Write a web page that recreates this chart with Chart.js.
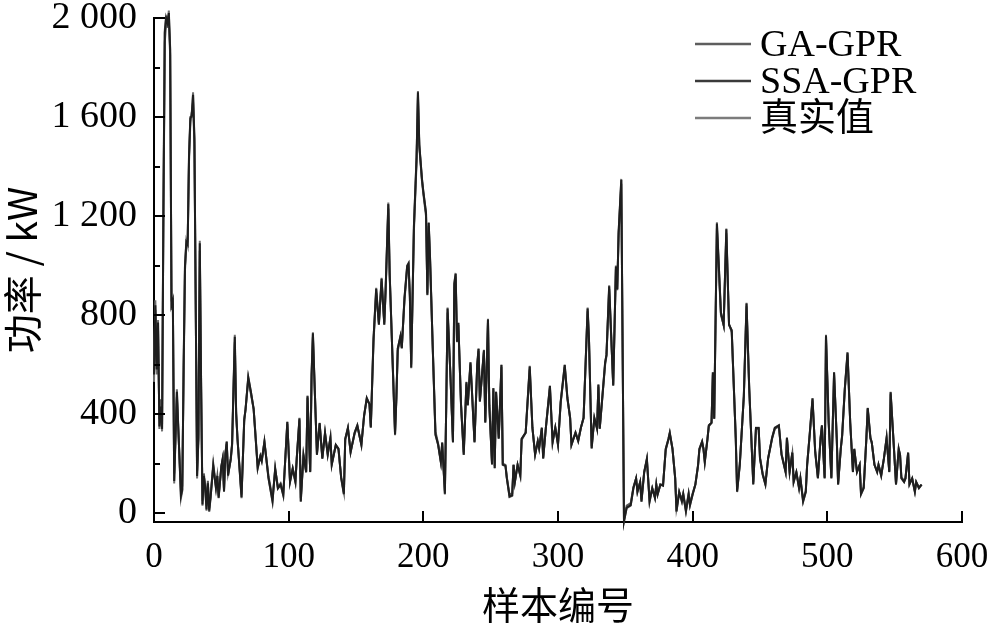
<!DOCTYPE html>
<html>
<head>
<meta charset="utf-8">
<script src="https://cdn.jsdelivr.net/npm/chart.js@4"></script>
<style>
  html, body { margin: 0; padding: 0; background: #fff; }
  #powerChart { display: block; }
</style>
</head>
<body>
<canvas id="powerChart" width="1000" height="629"></canvas>
<script>
// ==========================================
// DATA
// ==========================================

// sample number for every point
const sampleNo = [
  0, 1, 2, 3, 4, 5, 6, 7, 8, 9,
  10, 11, 12, 13, 14, 15, 17, 20, 21, 22,
  23, 24, 25, 26, 27, 28, 29, 30, 32, 33,
  34, 35, 36, 37, 38, 39, 40, 41, 42, 44,
  46, 47, 48, 50, 51, 52, 53, 54, 55, 57,
  58, 60, 61, 62, 65, 67, 68, 70, 72, 74,
  75, 77, 79, 80, 82, 85, 88, 90, 92, 94,
  96, 99, 101, 103, 105, 106, 108, 109, 111, 113,
  114, 116, 117, 118, 120, 121, 123, 125, 127, 129,
  131, 132, 135, 137, 139, 141, 142, 144, 146, 149,
  151, 154, 156, 158, 160, 161, 163, 165, 167, 169,
  171, 172, 174, 175, 179, 180, 181, 183, 184, 186,
  188, 189, 190, 191, 193, 195, 196, 197, 199, 200,
  202, 203, 204, 205, 207, 209, 211, 213, 214, 216,
  217, 218, 220, 222, 223, 224, 225, 226, 228, 230,
  232, 233, 235, 236, 238, 240, 241, 242, 245, 246,
  248, 249, 251, 252, 253, 254, 256, 258, 259, 261,
  262, 264, 266, 267, 268, 270, 272, 273, 276, 279,
  281, 283, 285, 286, 288, 289, 291, 294, 296, 298,
  300, 302, 305, 307, 309, 310, 313, 315, 317, 319,
  322, 323, 325, 327, 329, 330, 331, 333, 335, 336,
  338, 341, 343, 344, 345, 347, 349, 351, 354, 356,
  358, 359, 361, 362, 364, 366, 368, 370, 372, 373,
  374, 376, 378, 380, 382, 383, 385, 387, 388, 390,
  392, 393, 395, 397, 398, 400, 402, 404, 405, 407,
  408, 409, 411, 412, 414, 415, 416, 418, 421, 423,
  425, 427, 429, 432, 433, 435, 438, 440, 442, 445,
  447, 449, 450, 452, 454, 456, 459, 461, 464, 466,
  469, 470, 472, 474, 475, 477, 479, 480, 482, 484,
  485, 487, 489, 491, 493, 495, 496, 498, 499, 501,
  503, 505, 507, 508, 510, 511, 513, 515, 517, 519,
  520, 522, 524, 525, 527, 529, 530, 532, 533, 535,
  537, 538, 540, 542, 544, 546, 547, 549, 551, 553,
  554, 555, 557, 558, 560, 561, 563, 565, 566, 568,
  570
];

// 真实值 (kW)
const realPower = [
  530, 860, 560, 780, 340, 420, 330, 1250, 1950, 2010,
  1960, 2030, 1880, 820, 870, 120, 500, 60, 90, 600,
  1000, 1100, 1080, 1450, 1600, 1600, 1700, 1520, 140, 300,
  1100, 500, 30, 150, 100, 10, 120, 5, 60, 190,
  100, 150, 60, 190, 220, 85, 240, 290, 150, 220,
  280, 720, 400, 300, 60, 380, 420, 550, 490, 420,
  340, 180, 230, 210, 290, 140, 45, 180, 100, 115,
  70, 370, 125, 180, 125, 220, 385, 45, 235, 165,
  475, 165, 560, 730, 395, 235, 365, 220, 325, 235,
  305, 195, 275, 260, 140, 75, 300, 345, 245, 325,
  355, 275, 395, 465, 440, 345, 705, 910, 760, 950,
  760, 905, 1255, 970, 315, 465, 665, 715, 665, 870,
  1000, 1010, 880, 585, 1160, 1445, 1705, 1490, 1350, 1300,
  1215, 880, 1175, 1030, 665, 315, 275, 205, 285, 75,
  435, 830, 570, 285, 930, 970, 690, 770, 435, 235,
  530, 435, 610, 505, 285, 600, 665, 450, 660, 365,
  785, 435, 195, 505, 180, 490, 300, 600, 195, 190,
  140, 65, 70, 195, 125, 195, 150, 300, 325, 595,
  345, 235, 290, 260, 345, 220, 345, 515, 285, 345,
  275, 450, 600, 465, 385, 275, 325, 290, 345, 385,
  830, 705, 260, 385, 340, 520, 340, 475, 610, 640,
  920, 515, 1000, 905, 1135, 1350, -35, 20, 30, 100,
  140, 85, 125, 45, 165, 220, 45, 100, 60, 115,
  75, 115, 110, 260, 300, 325, 260, 140, 5, 85,
  45, 75, 5, 75, 30, 75, 115, 195, 260, 290,
  260, 205, 300, 355, 365, 570, 380, 1175, 810, 760,
  1150, 760, 740, 300, 85, 195, 475, 850, 505, 115,
  345, 345, 220, 155, 115, 220, 305, 345, 355, 235,
  165, 305, 165, 245, 125, 165, 100, 140, 45, 85,
  195, 325, 465, 245, 140, 305, 355, 140, 720, 365,
  140, 570, 300, 115, 262, 315, 505, 650, 365, 165,
  260, 165, 195, 75, 100, 305, 425, 305, 285, 195,
  165, 195, 150, 220, 305, 165, 490, 305, 115, 260,
  235, 140, 125, 140, 245, 115, 140, 85, 125, 100,
  115
];

// GA-GPR (kW)
const gaPower = [
  600, 820, 600, 740, 380, 460, 360, 1200, 1900, 1980,
  2000, 1990, 1850, 860, 840, 160, 470, 90, 110, 560,
  980, 1080, 1100, 1420, 1580, 1620, 1660, 1490, 170, 320,
  1060, 520, 50, 160, 110, 30, 130, 20, 70, 200,
  110, 150, 70, 185, 215, 95, 235, 280, 160, 215,
  275, 690, 410, 300, 75, 370, 420, 540, 480, 420,
  345, 190, 230, 215, 285, 150, 60, 175, 105, 120,
  80, 360, 130, 180, 130, 220, 375, 60, 230, 170,
  465, 170, 545, 710, 400, 240, 360, 225, 320, 240,
  300, 200, 275, 255, 145, 85, 295, 340, 250, 320,
  350, 280, 390, 460, 440, 350, 690, 890, 770, 935,
  770, 895, 1230, 960, 330, 470, 655, 710, 670, 860,
  990, 1000, 870, 600, 1140, 1420, 1680, 1480, 1340, 1290,
  1200, 890, 1160, 1020, 670, 330, 280, 210, 280, 90,
  430, 810, 575, 290, 910, 955, 700, 760, 440, 245,
  520, 440, 600, 500, 290, 590, 655, 455, 650, 370,
  770, 440, 205, 495, 190, 485, 305, 590, 200, 195,
  145, 75, 80, 195, 130, 195, 155, 295, 325, 580,
  345, 240, 290, 265, 340, 225, 345, 505, 290, 345,
  280, 445, 590, 460, 385, 280, 325, 295, 345, 385,
  815, 700, 270, 380, 345, 510, 345, 470, 600, 635,
  905, 520, 985, 900, 1120, 1330, -25, 30, 40, 105,
  140, 90, 125, 55, 165, 215, 55, 100, 65, 115,
  80, 115, 115, 255, 295, 320, 260, 145, 20, 85,
  55, 80, 15, 80, 40, 80, 115, 190, 255, 285,
  260, 210, 300, 350, 365, 560, 385, 1150, 800, 760,
  1130, 765, 730, 305, 95, 200, 470, 835, 500, 125,
  340, 340, 225, 160, 120, 220, 300, 340, 350, 240,
  170, 300, 170, 240, 130, 165, 105, 140, 55, 90,
  195, 320, 455, 250, 145, 300, 350, 145, 705, 365,
  145, 560, 300, 120, 260, 310, 500, 640, 365, 170,
  255, 170, 195, 85, 105, 300, 420, 300, 285, 195,
  170, 195, 155, 220, 300, 170, 480, 305, 120, 255,
  235, 145, 130, 140, 240, 120, 140, 90, 125, 105,
  115
];

// SSA-GPR (kW)
const ssaPower = [
  560, 840, 580, 770, 350, 430, 340, 1230, 1940, 2000,
  1980, 2020, 1870, 840, 860, 130, 490, 70, 95, 590,
  995, 1095, 1085, 1440, 1595, 1605, 1690, 1510, 150, 305,
  1090, 505, 35, 150, 105, 15, 120, 10, 62, 190,
  102, 150, 62, 190, 220, 88, 238, 288, 152, 220,
  280, 712, 402, 300, 64, 378, 420, 548, 488, 420,
  340, 182, 230, 210, 288, 142, 48, 180, 100, 115,
  72, 368, 126, 180, 126, 220, 382, 48, 234, 165,
  472, 166, 556, 726, 396, 236, 364, 220, 325, 236,
  304, 196, 275, 260, 142, 78, 300, 345, 246, 325,
  354, 275, 394, 465, 440, 346, 702, 906, 762, 946,
  762, 904, 1248, 968, 318, 466, 664, 714, 666, 868,
  998, 1008, 878, 588, 1155, 1440, 1700, 1488, 1348, 1298,
  1212, 882, 1172, 1028, 666, 318, 276, 206, 285, 78,
  434, 826, 571, 286, 926, 966, 692, 768, 436, 236,
  528, 436, 608, 504, 286, 598, 664, 451, 658, 366,
  782, 436, 197, 504, 182, 490, 301, 598, 196, 191,
  141, 67, 72, 195, 126, 195, 151, 300, 325, 592,
  345, 236, 290, 261, 345, 221, 345, 513, 286, 345,
  276, 449, 598, 465, 385, 276, 325, 291, 345, 385,
  826, 704, 262, 385, 341, 518, 341, 474, 608, 639,
  916, 516, 996, 904, 1132, 1346, -33, 22, 32, 101,
  140, 86, 125, 47, 165, 219, 47, 100, 61, 115,
  76, 115, 111, 259, 299, 324, 260, 141, 8, 85,
  47, 76, 8, 76, 32, 76, 115, 194, 259, 289,
  260, 206, 300, 354, 365, 568, 381, 1170, 808, 760,
  1146, 761, 738, 301, 87, 196, 474, 847, 504, 117,
  344, 344, 221, 156, 116, 220, 304, 344, 354, 236,
  166, 304, 166, 244, 126, 165, 101, 140, 47, 86,
  195, 324, 463, 246, 141, 304, 354, 141, 717, 365,
  141, 568, 300, 116, 261, 314, 504, 648, 365, 166,
  259, 166, 195, 77, 101, 304, 424, 304, 285, 195,
  166, 195, 151, 220, 304, 166, 488, 305, 116, 259,
  235, 141, 126, 140, 244, 116, 140, 86, 125, 101,
  115
];

// axis ticks
const xTickValues = [0, 100, 200, 300, 400, 500, 600];
const yTickValues = [0, 400, 800, 1200, 1600, 2000];
const yTickLabels = ["0", "400", "800", "1 200", "1 600", "2 000"];
const yMinorTicks = [200, 600, 1000, 1400, 1800];

const SERIF = "'Liberation Serif', 'Times New Roman', 'Noto Sans CJK SC', serif";
const CJK = "'Noto Sans CJK SC', 'Liberation Serif', serif";

// gabung sampleNo + nilai -> titik {x, y}
const toPoints = (values) => sampleNo.map((s, i) => ({ x: s, y: values[i] }));

// ==========================================
// PLUGINS
// ==========================================

// tick marks pointing into the plot, like the original figure
const tickMarks = {
  id: "tickMarks",
  afterDraw(chart) {
    const { ctx, chartArea, scales } = chart;
    ctx.save();
    ctx.strokeStyle = "#000";
    ctx.lineWidth = 2;
    ctx.beginPath();
    yTickValues.forEach((v) => {
      const py = Math.round(scales.y.getPixelForValue(v));
      ctx.moveTo(chartArea.left, py);
      ctx.lineTo(chartArea.left + 11, py);
    });
    yMinorTicks.forEach((v) => {
      const py = Math.round(scales.y.getPixelForValue(v));
      ctx.moveTo(chartArea.left, py);
      ctx.lineTo(chartArea.left + 6, py);
    });
    xTickValues.forEach((v) => {
      const px = Math.round(scales.x.getPixelForValue(v));
      ctx.moveTo(px, chartArea.bottom);
      ctx.lineTo(px, chartArea.bottom - 11);
    });
    ctx.stroke();
    ctx.restore();
  },
};

// legend in the upper right corner
const legendBox = {
  id: "legendBox",
  afterDraw(chart) {
    const ctx = chart.ctx;
    ctx.save();
    ctx.font = "38px " + SERIF;
    ctx.textBaseline = "middle";
    ctx.fillStyle = "#000";
    chart.data.datasets.forEach((ds, i) => {
      const y = 44 + i * 37;
      ctx.strokeStyle = ds.legendColor;
      ctx.lineWidth = 2.5;
      ctx.beginPath();
      ctx.moveTo(695, y);
      ctx.lineTo(751, y);
      ctx.stroke();
      ctx.fillText(ds.label, 760, y + 2);
    });
    ctx.restore();
  },
};

// ==========================================
// CHART
// ==========================================

document.addEventListener("DOMContentLoaded", () => {
  const ctx = document.getElementById("powerChart").getContext("2d");

  new Chart(ctx, {
    type: "line",
    data: {
      datasets: [
        {
          label: "GA-GPR",
          data: toPoints(gaPower),
          borderColor: "#555555",
          legendColor: "#5e5e5e",
          order: 1,
        },
        {
          label: "SSA-GPR",
          data: toPoints(ssaPower),
          borderColor: "#1e1e1e",
          legendColor: "#3a3a3a",
          order: 0,
        },
        {
          label: "真实值",
          data: toPoints(realPower),
          borderColor: "#6e6e6e",
          legendColor: "#7c7c7c",
          order: 2,
        },
      ],
    },
    options: {
      responsive: false,
      animation: false,
      events: [],
      layout: { padding: { top: 18, right: 38, left: 0, bottom: 0 } },
      elements: {
        point: { radius: 0 },
        line: { borderWidth: 2, tension: 0, fill: false },
      },
      datasets: { line: { clip: false } },
      plugins: {
        legend: { display: false },
        tooltip: { enabled: false },
      },
      scales: {
        x: {
          type: "linear",
          min: 0,
          max: 600,
          afterFit: (s) => {
            s.height = 107;
            s.paddingLeft = 0;
            s.paddingRight = 0;
          },
          afterBuildTicks: (s) => { s.ticks = xTickValues.map((v) => ({ value: v })); },
          grid: { display: false, drawTicks: false },
          border: { display: true, color: "#000", width: 2 },
          ticks: {
            color: "#000",
            padding: 18,
            maxRotation: 0,
            font: { family: SERIF, size: 35, lineHeight: 1 },
          },
          title: {
            display: true,
            text: "样本编号",
            color: "#000",
            font: { family: CJK, size: 38, lineHeight: 1 },
            padding: { top: 0, bottom: 5 },
          },
        },
        y: {
          min: -36,
          max: 2000,
          afterFit: (s) => {
            s.width = 154;
            s.paddingTop = 0;
            s.paddingBottom = 0;
          },
          afterBuildTicks: (s) => { s.ticks = yTickValues.map((v) => ({ value: v })); },
          grid: { display: false, drawTicks: false },
          border: { display: true, color: "#000", width: 2 },
          ticks: {
            color: "#000",
            padding: 17,
            font: { family: SERIF, size: 38, lineHeight: 1 },
            callback: (v, i) => yTickLabels[i],
          },
          title: {
            display: true,
            text: "功率 / kW",
            color: "#000",
            font: { family: CJK, size: 39, lineHeight: 1 },
            padding: { top: 3, bottom: 0 },
          },
        },
      },
    },
    plugins: [tickMarks, legendBox],
  });
});
</script>
</body>
</html>
